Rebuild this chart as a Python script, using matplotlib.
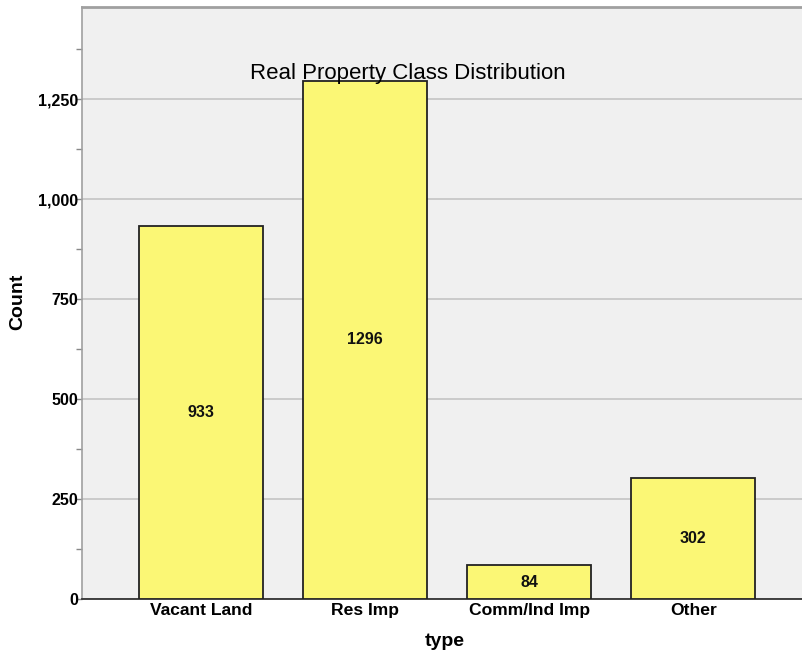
import matplotlib
matplotlib.use('Agg')
import matplotlib.pyplot as plt
from matplotlib import font_manager
import numpy as np
from matplotlib.ticker import MultipleLocator, FuncFormatter

# --- data ---
categories = ['Vacant Land', 'Res Imp', 'Comm/Ind Imp', 'Other']
counts = [933, 1296, 84, 302]

BG = '#f0f0f0'
BAR = '#fbf775'
GRID = '#c4c4c4'

plt.rcParams['font.family'] = ['Liberation Sans', 'DejaVu Sans']

# narrow font for numbers, if it is there
try:
    font_manager.findfont('Liberation Sans Narrow', fallback_to_default=False)
    NUM_FONT, NUM_SIZE = 'Liberation Sans Narrow', 14
except Exception:
    NUM_FONT, NUM_SIZE = 'Liberation Sans', 11.5

fig = plt.figure(figsize=(8.02, 6.51), dpi=100)
ax = fig.add_axes([82 / 802, 52 / 651, 730.5 / 802, 592 / 651])
ax.set_facecolor(BG)

x = np.arange(len(categories))
bars = ax.bar(x, counts, width=0.756, color=BAR, edgecolor='#222222',
              linewidth=1.3, zorder=3)

# value labels inside bars
for xi, v in zip(x, counts):
    ax.text(xi, v / 2, str(v), ha='center', va='center', fontsize=NUM_SIZE,
            fontweight='bold', family=NUM_FONT, color='#111111', zorder=5)

ax.set_xlim(-0.726, 3.726)
ax.set_ylim(0, 1480)
ax.yaxis.set_major_locator(MultipleLocator(250))
ax.yaxis.set_minor_locator(MultipleLocator(125))
ax.yaxis.set_major_formatter(FuncFormatter(lambda v, p: f'{int(v):,}'))
ax.grid(axis='y', which='major', color=GRID, linewidth=1.2, zorder=0)
ax.set_axisbelow(True)

ax.set_xticks(x)
ax.set_xticklabels(categories, fontsize=12.6, fontweight='bold')
ax.tick_params(axis='x', length=0, pad=3)
ax.tick_params(axis='y', which='major', length=4, width=1, color='#888888',
               pad=-1)
ax.tick_params(axis='y', which='minor', length=4, width=1, color='#888888')
for lbl in ax.get_yticklabels():
    lbl.set_fontweight('bold')
    lbl.set_fontfamily(NUM_FONT)
    lbl.set_fontsize(NUM_SIZE)

for side in ['left', 'top', 'right']:
    ax.spines[side].set_color('#a0a0a0')
ax.spines['top'].set_linewidth(2)
ax.spines['left'].set_linewidth(1.2)
ax.spines['bottom'].set_color('#333333')
ax.spines['bottom'].set_linewidth(1.3)

ax.set_ylabel('Count', fontsize=14, fontweight='bold')
ax.yaxis.set_label_coords((18 - 82) / 730.5, (599 - 302) / 592)
ax.set_xlabel('type', fontsize=14, fontweight='bold')
ax.xaxis.set_label_coords((445 - 82) / 730.5, -(641 - 599) / 592)
ax.xaxis.label.set_va('center')
ax.yaxis.label.set_va('center')

ax.text((408 - 82) / 730.5, (599 - 74) / 592, 'Real Property Class Distribution',
        transform=ax.transAxes, ha='center', va='center', fontsize=16,
        color='black', zorder=6)

fig.savefig('out.png', dpi=100, facecolor='white')
